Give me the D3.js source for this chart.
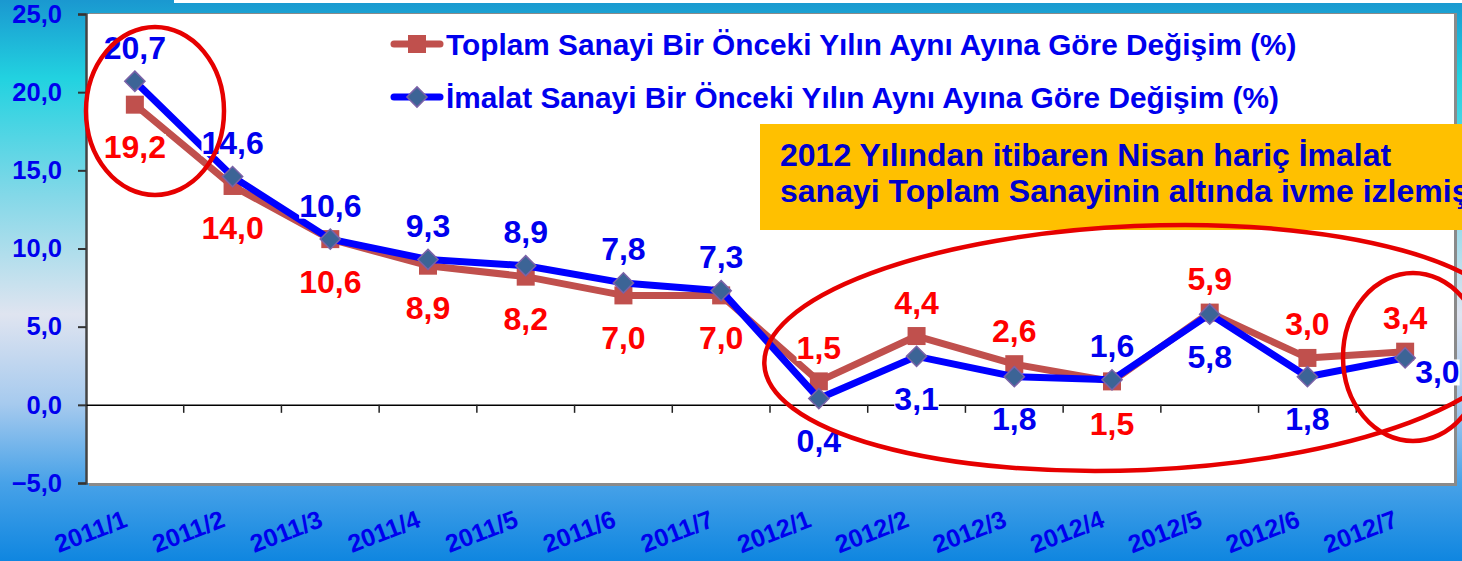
<!DOCTYPE html>
<html>
<head>
<meta charset="utf-8">
<script src="https://cdn.jsdelivr.net/npm/d3@7"></script>
<style>
  html, body { margin: 0; padding: 0; overflow: hidden; }
  svg { display: block; font-family: Arial, "Liberation Sans", sans-serif; }
</style>
</head>
<body>
<svg id="chart"></svg>
<script>
// months on the x axis
var months = ['2011/1','2011/2','2011/3','2011/4','2011/5','2011/6','2011/7',
              '2012/1','2012/2','2012/3','2012/4','2012/5','2012/6','2012/7'];
// Toplam sanayi, yillik degisim (%)
var toplam = [19.2, 14.0, 10.6, 8.9, 8.2, 7.0, 7.0, 1.5, 4.4, 2.6, 1.5, 5.9, 3.0, 3.4];
// Imalat sanayi, yillik degisim (%)
var imalat = [20.7, 14.6, 10.6, 9.3, 8.9, 7.8, 7.3, 0.4, 3.1, 1.8, 1.6, 5.8, 1.8, 3.0];
// where each value label sits relative to its point
var toplamPos = ['b','b','b','b','b','b','b','a','a','a','b','a','a','a'];
var imalatPos = ['a','a','a','a','a','a','a','b','b','b','a','b','b','r'];
var yTicks = [-5, 0, 5, 10, 15, 20, 25];
var legendNames = ['Toplam Sanayi Bir Önceki Yılın Aynı Ayına Göre Değişim (%)',
                   'İmalat Sanayi Bir Önceki Yılın Aynı Ayına Göre Değişim (%)'];
var noteLines = ['2012 Yılından itibaren Nisan hariç İmalat',
                 'sanayi Toplam Sanayinin altında ivme izlemiş'];

var W = 1462, H = 561;
var margin = {left: 86, right: 8, top: 14, bottom: 78};
var svg = d3.select('#chart').attr('width', W).attr('height', H);

var defs = svg.append('defs');
var bg = defs.append('linearGradient').attr('id', 'bg')
    .attr('x1', 0).attr('y1', 0).attr('x2', 0).attr('y2', 1);
[[0, '#1a98d0'], [0.14, '#22d2e0'], [0.35, '#84d8e8'], [0.56, '#dfe4f0'],
 [0.72, '#a6caee'], [0.86, '#48a2e8'], [1, '#0f86e0']].forEach(function(s) {
  bg.append('stop').attr('offset', s[0]).attr('stop-color', s[1]);
});

svg.append('rect').attr('width', W).attr('height', H).attr('fill', 'url(#bg)');
// cut-off title box at the very top
svg.append('rect').attr('x', 174).attr('y', -20).attr('width', W).attr('height', 23).attr('fill', '#fff');

var x = d3.scaleBand().domain(months).range([margin.left, W - margin.right]).padding(0);
var y = d3.scaleLinear().domain([-5, 25]).range([H - margin.bottom, margin.top]);
var fmt = function(d) { return d3.format('.1f')(d).replace('.', ','); };

// plot area with shadow
svg.append('rect')
  .attr('x', margin.left + 3).attr('y', margin.top - 1)
  .attr('width', W - margin.right - margin.left).attr('height', H - margin.bottom - margin.top + 4)
  .attr('fill', '#8a8a8a');
svg.append('rect')
  .attr('x', margin.left).attr('y', margin.top)
  .attr('width', W - margin.right - margin.left).attr('height', H - margin.bottom - margin.top)
  .attr('fill', '#fff');

// y axis
var yAxis = svg.append('g')
  .attr('transform', 'translate(' + margin.left + ',0)')
  .call(d3.axisLeft(y).tickValues(yTicks).tickFormat(fmt).tickSize(8).tickPadding(16));
yAxis.select('.domain').attr('stroke', '#444').attr('stroke-width', 2.5);
yAxis.selectAll('.tick line').attr('stroke', '#333').attr('stroke-width', 2);
yAxis.selectAll('text').attr('fill', '#0000ee').attr('font-size', 25.5).attr('font-weight', 'bold');

// zero line with category ticks
var xAxis = svg.append('g')
  .attr('transform', 'translate(0,' + y(0) + ')')
  .call(d3.axisBottom(x).tickSize(0).tickFormat(''));
xAxis.select('.domain').attr('stroke', '#000').attr('stroke-width', 1.5);
svg.append('g').selectAll('line')
  .data(months.slice(1))
  .enter().append('line')
  .attr('x1', function(d) { return x(d); }).attr('x2', function(d) { return x(d); })
  .attr('y1', y(0)).attr('y2', y(0) + 8)
  .attr('stroke', '#222').attr('stroke-width', 1.5);

// rotated month labels
svg.append('g').selectAll('text')
  .data(months)
  .enter().append('text')
  .attr('transform', function(d) {
    return 'translate(' + (x(d) + x.bandwidth() / 2 - 6) + ',' + 526 + ') rotate(-21)';
  })
  .attr('text-anchor', 'end')
  .attr('fill', '#0000ee').attr('font-size', 25).attr('font-weight', 'bold')
  .text(function(d) { return d; });

var cx = function(d, i) { return x(months[i]) + x.bandwidth() / 2; };
var line = d3.line().x(cx).y(function(d) { return y(d); });

var red = '#c0504d', blue = '#0000ff';

svg.append('path').datum(toplam).attr('d', line)
  .attr('fill', 'none').attr('stroke', red).attr('stroke-width', 7).attr('stroke-linejoin', 'round');
svg.append('g').selectAll('rect')
  .data(toplam).enter().append('rect')
  .attr('x', function(d, i) { return cx(d, i) - 9; })
  .attr('y', function(d) { return y(d) - 9; })
  .attr('width', 18).attr('height', 18).attr('fill', red);

svg.append('path').datum(imalat).attr('d', line)
  .attr('fill', 'none').attr('stroke', blue).attr('stroke-width', 7).attr('stroke-linejoin', 'round');
svg.append('g').selectAll('path')
  .data(imalat).enter().append('path')
  .attr('d', d3.symbol().type(d3.symbolDiamond2).size(260))
  .attr('transform', function(d, i) { return 'translate(' + cx(d, i) + ',' + y(d) + ')'; })
  .attr('fill', '#3c6496').attr('stroke', '#7a62a8').attr('stroke-width', 1.5);

// value labels
function drawLabels(vals, pos, color) {
  var g = svg.append('g');
  vals.forEach(function(v, i) {
    var px = cx(v, i), py = y(v), dx = 0, dy = 0, anchor = 'middle';
    if (pos[i] === 'a') dy = -34;
    if (pos[i] === 'b') dy = 42;
    if (pos[i] === 'r') { dx = 10; dy = 14; anchor = 'start'; }
    var t = g.append('text')
      .attr('x', px + dx).attr('y', py + dy)
      .attr('dy', '0.36em')
      .attr('text-anchor', anchor)
      .attr('fill', color).attr('font-size', 32).attr('font-weight', 'bold')
      .text(fmt(v));
    var b = t.node().getBBox();
    g.insert('rect', function() { return t.node(); })
      .attr('x', b.x).attr('y', b.y + 5).attr('width', b.width).attr('height', b.height - 10)
      .attr('fill', '#fff');
  });
}
drawLabels(toplam, toplamPos, '#ff0000');
drawLabels(imalat, imalatPos, '#0000ee');

// legend
var legend = svg.append('g').attr('transform', 'translate(392,0)');
[[red, 'square', 44], [blue, 'diamond', 97]].forEach(function(s, i) {
  var row = legend.append('g').attr('transform', 'translate(0,' + s[2] + ')');
  row.append('line').attr('x1', 2).attr('x2', 48)
    .attr('stroke', s[0]).attr('stroke-width', 7).attr('stroke-linecap', 'round');
  if (s[1] === 'square') {
    row.append('rect').attr('x', 16).attr('y', -9).attr('width', 18).attr('height', 18).attr('fill', red);
  } else {
    row.append('path').attr('d', d3.symbol().type(d3.symbolDiamond2).size(260))
      .attr('transform', 'translate(25,0)')
      .attr('fill', '#3c6496').attr('stroke', '#7a62a8').attr('stroke-width', 1.5);
  }
  row.append('text').attr('x', 54).attr('dy', '0.36em')
    .attr('fill', '#0000ee').attr('font-size', 29.8).attr('font-weight', 'bold')
    .text(legendNames[i]);
});

// note box
svg.append('rect').attr('x', 760).attr('y', 124).attr('width', 720).attr('height', 106).attr('fill', '#ffc000');
svg.append('g').selectAll('text')
  .data(noteLines).enter().append('text')
  .attr('x', 780).attr('y', function(d, i) { return 166 + i * 36; })
  .attr('fill', '#0000cc').attr('font-size', 32).attr('font-weight', 'bold')
  .text(function(d) { return d; });

// red highlight ellipses
var circ = svg.append('g').attr('fill', 'none').attr('stroke', '#e60000').attr('stroke-width', 4.5);
circ.append('ellipse').attr('cx', 155).attr('cy', 111).attr('rx', 69).attr('ry', 84);
circ.append('ellipse').attr('cx', 1140).attr('cy', 348).attr('rx', 376).attr('ry', 122)
  .attr('transform', 'rotate(-2.5 1140 348)');
circ.append('ellipse').attr('cx', 1413).attr('cy', 357).attr('rx', 70).attr('ry', 84);
</script>
</body>
</html>
